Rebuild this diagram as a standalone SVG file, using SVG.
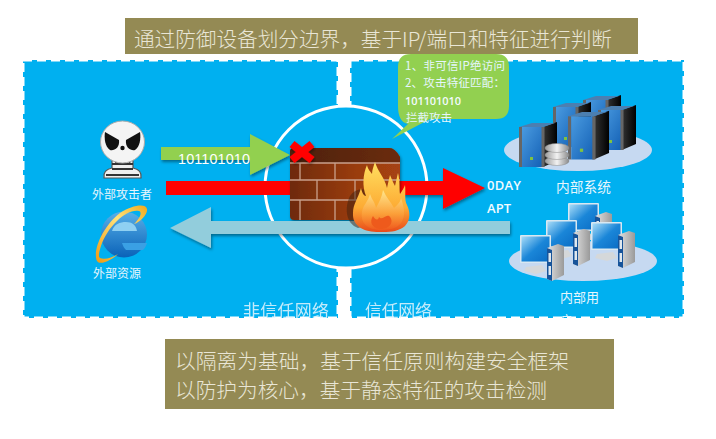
<svg xmlns="http://www.w3.org/2000/svg" xmlns:xlink="http://www.w3.org/1999/xlink" width="716" height="439" viewBox="0 0 716 439">
<style>
.cjk{font-family:"Noto Sans CJK SC","Liberation Sans",sans-serif}
.ban{font-size:20.7px;fill:#e9e6d6;font-weight:300}
.lab{fill:#e6f6fd}
.lat{font-family:"Liberation Sans","Noto Sans",sans-serif;fill:#fff}
.semi{font-family:"Open Sans","Liberation Sans",sans-serif;font-weight:600;fill:#f2fbff}
.panel{fill:#00b0f0;stroke:#fff;stroke-width:3;stroke-dasharray:9 5}
.mortar{stroke:#c9a08c;stroke-width:1.3;fill:none}
</style>
<defs>
<filter id="sh" x="-20%" y="-30%" width="140%" height="170%"><feDropShadow dx="1" dy="2" stdDeviation="1.5" flood-color="#000" flood-opacity=".4"/></filter>
<linearGradient id="brick" x1="0" x2="1" y1="0" y2="0"><stop offset="0" stop-color="#6e2a0e"/><stop offset=".6" stop-color="#9a3c10"/><stop offset="1" stop-color="#a64312"/></linearGradient>
<linearGradient id="brickTop" x1="0" x2="1" y1="0" y2="0"><stop offset="0" stop-color="#4d2108"/><stop offset="1" stop-color="#6b2c0c"/></linearGradient>
<linearGradient id="fl" x1="0" x2="0" y1="0" y2="1"><stop offset="0" stop-color="#ffe060"/><stop offset=".65" stop-color="#fdab34"/><stop offset="1" stop-color="#e8491a"/></linearGradient>
<linearGradient id="fl2" x1="0" x2="0" y1="0" y2="1"><stop offset="0" stop-color="#ffeb95"/><stop offset=".6" stop-color="#fba03a"/><stop offset="1" stop-color="#f05a1e"/></linearGradient>
<linearGradient id="srv" x1="0" x2="1" y1="0" y2="1"><stop offset="0" stop-color="#4a9be0"/><stop offset="1" stop-color="#125fb4"/></linearGradient>
<linearGradient id="side" x1="0" x2="1" y1="0" y2="0"><stop offset="0" stop-color="#333"/><stop offset="1" stop-color="#000"/></linearGradient>
<linearGradient id="scr" x1="0" x2="1" y1="0" y2="1"><stop offset="0" stop-color="#a8dcf8"/><stop offset=".5" stop-color="#1a86d8"/><stop offset="1" stop-color="#0a6cc4"/></linearGradient>
<linearGradient id="tow" x1="0" x2="1" y1="0" y2="0"><stop offset="0" stop-color="#e4e4e4"/><stop offset="1" stop-color="#9a9a9a"/></linearGradient>
<linearGradient id="ie" x1="0" x2="0" y1="0" y2="1"><stop offset="0" stop-color="#58b0e8"/><stop offset="1" stop-color="#0a62b8"/></linearGradient>
<linearGradient id="ring" x1="0" x2="1" y1="1" y2="0"><stop offset="0" stop-color="#f29a10"/><stop offset=".6" stop-color="#ffe27a"/><stop offset="1" stop-color="#f0a91a"/></linearGradient>
<linearGradient id="disk" x1="0" x2="1" y1="0" y2="0"><stop offset="0" stop-color="#9a9a9a"/><stop offset=".5" stop-color="#f2f2f2"/><stop offset="1" stop-color="#8a8a8a"/></linearGradient>
<clipPath id="pclip"><rect x="20" y="56" width="670" height="262"/></clipPath>
<g id="server">
<rect x="0" y="3" width="3" height="40" fill="#666"/>
<path d="M3 3 H24 V43 H3Z" fill="url(#srv)"/>
<path d="M24 3 L38 -2 V37 L24 43Z" fill="url(#side)"/>
<rect x="22.500" y="3" width="3" height="40" fill="#666"/>
<path d="M0 3 L13 -1 H36 L24 3Z" fill="#4c7fb0"/>
<rect x="11" y="33" width="3" height="3" fill="#7fc241"/>
</g>
<g id="pc">
<rect x="0" y="0" width="31" height="28" rx="1" fill="#d8e8f2"/>
<rect x="1.500" y="1.500" width="28" height="25" fill="url(#scr)"/>
<path d="M6 32 L22 30 L26 36 L16 39 L4 36Z" fill="#d5d8da"/>
<path d="M27 13 L38 9 L44 11 V40 L32 46 L27 44Z" fill="url(#tow)"/>
<path d="M27 13 L32 15 V46 L27 44Z" fill="#17549a"/>
<rect x="28.500" y="18" width="2.500" height="9" fill="#dfe8ef"/>
<rect x="28.500" y="31" width="2.500" height="9" fill="#dfe8ef"/>
</g>
</defs>

<g id="banner-top">
<rect x="125" y="18" width="513" height="36" fill="#948a54"/>
<text class="cjk ban" x="134" y="47" textLength="478" lengthAdjust="spacingAndGlyphs">通过防御设备划分边界，基于IP/端口和特征进行判断</text>
</g>

<g id="zone-untrusted">
<rect class="panel" x="23" y="60" width="315" height="258"/>
<text class="cjk lab" clip-path="url(#pclip)" x="243" y="317" font-size="17" textLength="86" opacity=".85">非信任网络</text>
</g>
<g id="zone-trusted">
<rect class="panel" x="350" y="60" width="334" height="258"/>
<text class="cjk lab" clip-path="url(#pclip)" x="365" y="317" font-size="17" textLength="67" opacity=".85">信任网络</text>
</g>

<circle id="boundary" cx="346" cy="187" r="81" fill="#00b0f0" stroke="#fff" stroke-width="3"/>

<g id="connectors">
<path d="M161 147H250V134L290 155L250 175V160H161Z" fill="#92d050" filter="url(#sh)"/>
<rect x="166" y="181" width="130" height="14" fill="#f00"/>
<path d="M390 181H443V168L485 188L443 209V195H390Z" fill="#f00" filter="url(#sh)"/>
</g>

<g id="firewall">
<g filter="url(#sh)">
<path d="M294 148H389Q395 148 400 157V220H294Q290 220 290 216V152Q290 148 294 148Z" fill="url(#brick)"/>
<path d="M294 148H389Q395 148 400 157V163H290V152Q290 148 294 148Z" fill="url(#brickTop)"/>
</g>
<path class="mortar" d="M290 163H400M290 180H400M290 200H400M300 163V180M335 163V180M317 180V200M355 180V200M300 200V220M335 200V220"/>
</g>

<g id="connector-return">
<path d="M510 221H211V207L170 228L211 248V234H510Z" fill="#92cddc" filter="url(#sh)"/>
</g>

<g id="flame">
<path d="M350 196C344 208 346 224 358 228L370 225L366 190C360 188 354 190 350 196Z" fill="#3d2010" opacity=".5"/>
<path d="M383 232C367 233 352 228 353 213C353 204 358 199 361 188C362 193 364 196 366 196C362 186 363 174 367 165C368 170 371 172 372 174C372 170 374 165 375 162C378 172 385 178 387 188C388 183 389 179 390 175C392 180 394 184 395 186C396 181 397 177 398 173C400 180 399 190 400 194C402 191 404 188 405 185C406 192 404 200 407 205C410 211 411 220 405 226C399 231 392 232 383 232Z" fill="url(#fl)"/>
<path d="M381 230C369 230 360 224 362 212C363 205 368 202 370 194C372 200 375 202 376 208C379 202 382 197 383 190C386 197 391 202 394 208C399 204 401 200 401 198C404 207 406 216 401 223C396 229 389 230 381 230Z" fill="url(#fl2)" opacity=".9"/>
<path d="M380 229C372 228 369 222 373 216C375 220 378 221 379 217C382 221 386 214 389 216C394 220 392 229 380 229Z" fill="#ee5a1c"/>
</g>

<g id="block-mark">
<path d="M292 144L312 160M312 144L292 160" stroke="#f00" stroke-width="8" fill="none" filter="url(#sh)"/>
</g>

<text class="lat" x="178" y="164" font-size="14.400" textLength="72">101101010</text>

<g id="callout">
<path d="M411 54H496Q509 54 509 67V106Q509 119 496 119H430L392 139L408 124Q398 122 398 106V67Q398 54 411 54Z" fill="#92d050"/>
<text class="cjk lab" font-size="11.500" x="405" y="70" textLength="100">1、非可信IP绝访问</text>
<text class="cjk lab" font-size="11.500" x="405" y="87" textLength="100">2、攻击特征匹配：</text>
<text class="semi" font-size="11" x="405" y="105" textLength="56">101101010</text>
<text class="cjk lab" font-size="11.500" x="406" y="122" textLength="46">拦截攻击</text>
</g>

<g id="attacker">
<path d="M104 178C103 172 107 169 112 168V154H133V168C138 169 142 172 141 178Z" fill="#eee" stroke="#555" stroke-width="1.200"/>
<path d="M112 164H133M112 169H133M106 175H139" stroke="#333" stroke-width="1.800"/>
<path d="M116 154V163M120.500 154V163M125 154V163M129.500 154V163" stroke="#444" stroke-width="1.800"/>
<ellipse cx="122.500" cy="142" rx="22" ry="21" fill="#f4f4f4" stroke="#aaa"/>
<path d="M105 132L119 140C120 148 114 151 110 150C105 147 104 138 105 132Z" fill="#111"/>
<path d="M140 132L126 140C125 148 131 151 135 150C140 147 141 138 140 132Z" fill="#111"/>
<circle cx="122.500" cy="148" r="2.200" fill="#111"/>
<text class="cjk lab" x="92" y="199" font-size="12" textLength="60">外部攻击者</text>
</g>

<g id="external-resource">
<circle cx="124" cy="234.500" r="23" fill="url(#ie)"/>
<path d="M112 231C114 224 120 222 126 222C132 222 136 225 137 231Z" fill="#8fd0f2"/>
<path d="M122 243H147C146 246 145 248 143 250H126C124 248 123 246 122 243Z" fill="#3aa0e4"/>
<path d="M97 261C92 250 104 225 120 213C132 205 146 203 147 209C148 214 140 222 134 224C141 217 142 212 139 211C128 208 108 225 101 246C99 252 98 257 100 258C104 260 112 258 118 254C112 260 100 266 97 261Z" fill="url(#ring)"/>
<text class="cjk lab" x="93" y="278" font-size="12" textLength="48">外部资源</text>
</g>

<g id="internal-system">
<ellipse cx="578" cy="150" rx="74" ry="21" fill="#c6d9f1"/>
<use xlink:href="#server" href="#server" transform="translate(583 97)"/>
<use xlink:href="#server" href="#server" transform="translate(553 104)"/>
<use xlink:href="#server" href="#server" transform="translate(598 107)"/>
<use xlink:href="#server" href="#server" transform="translate(568 113) scale(1.080 1.080)"/>
<use xlink:href="#server" href="#server" transform="translate(519 124)"/>
<g fill="url(#disk)" stroke="#888" stroke-width=".5">
<ellipse cx="557" cy="161" rx="12" ry="4.500"/>
<ellipse cx="557" cy="155" rx="12" ry="4.500"/>
<ellipse cx="557" cy="148" rx="12" ry="4.500"/>
</g>
<text class="cjk lab" x="556" y="192" font-size="13.700" textLength="55">内部系统</text>
</g>

<g id="internal-users">
<ellipse cx="583" cy="261" rx="74" ry="20" fill="#c6d9f1"/>
<use xlink:href="#pc" href="#pc" transform="translate(568 203)"/>
<use xlink:href="#pc" href="#pc" transform="translate(546 220)"/>
<use xlink:href="#pc" href="#pc" transform="translate(591 222)"/>
<use xlink:href="#pc" href="#pc" transform="translate(520 235)"/>
<text class="cjk lab" x="560" y="302" font-size="13" textLength="39">内部用</text>
<text class="cjk lab" clip-path="url(#pclip)" x="560" y="325" font-size="13">户</text>
</g>

<text class="semi" x="487" y="190" font-size="13" textLength="34">0DAY</text>
<text class="semi" x="487" y="213" font-size="13" textLength="24">APT</text>

<g id="banner-bottom">
<rect x="165" y="339" width="449" height="70" fill="#948a54"/>
<text class="cjk ban" x="175" y="369" textLength="394" lengthAdjust="spacingAndGlyphs">以隔离为基础，基于信任原则构建安全框架</text>
<text class="cjk ban" x="175" y="398" textLength="372" lengthAdjust="spacingAndGlyphs">以防护为核心，基于静态特征的攻击检测</text>
</g>
</svg>
